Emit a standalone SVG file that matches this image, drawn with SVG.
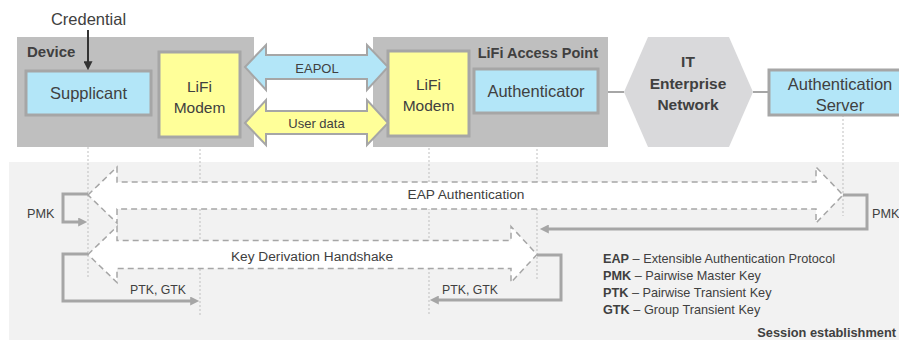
<svg xmlns="http://www.w3.org/2000/svg" width="899" height="340" viewBox="0 0 899 340">
<defs>
<style>
text{font-family:"Liberation Sans",Arial,sans-serif;fill:#404040}
.n{font-size:16.5px;text-anchor:middle}
.m{font-size:15.5px;text-anchor:middle}
.b{font-weight:bold}
.s{font-size:13.7px}
.l{font-size:12.7px}
.box{stroke:#a6a6a6;stroke-width:3}
.blue{fill:#b3e6f8}
.yel{fill:#ffff99}
.life{stroke:#bfbfbf;stroke-width:1;stroke-dasharray:2 2;fill:none}
.dash{fill:#ffffff;stroke:#a6a6a6;stroke-width:1.5;stroke-dasharray:6 4}
.br{fill:none;stroke:#a6a6a6;stroke-width:3;marker-end:url(#ah)}
.blk{stroke:#a6a6a6;stroke-width:2}
</style>
<marker id="ah" viewBox="0 0 10 10" markerWidth="10" markerHeight="9" markerUnits="userSpaceOnUse" refX="2" refY="5" orient="auto"><path d="M0,0 L10,5 L0,10 z" fill="#a6a6a6"/></marker>
<marker id="ak" viewBox="0 0 10 10" markerWidth="9" markerHeight="9" markerUnits="userSpaceOnUse" refX="2" refY="5" orient="auto"><path d="M0,0 L10,5 L0,10 z" fill="#333333"/></marker>
</defs>
<rect x="9" y="162" width="890" height="178" fill="#f2f2f2"/>
<g id="device">
<rect x="17" y="37" width="237" height="110" fill="#bfbfbf"/>
<text x="27" y="57" class="b" style="font-size:15px">Device</text>
</g>
<g id="access-point">
<rect x="373" y="37" width="235" height="110" fill="#bfbfbf"/>
<text x="598" y="58" class="b" style="font-size:14.5px;text-anchor:end">LiFi Access Point</text>
</g>
<g id="lifelines">
<line x1="88" y1="115" x2="88" y2="277" class="life"/>
<line x1="200" y1="137" x2="200" y2="315" class="life"/>
<line x1="429" y1="136" x2="429" y2="315" class="life"/>
<line x1="537" y1="113" x2="537" y2="281" class="life"/>
<line x1="843" y1="115" x2="843" y2="216" class="life"/>
</g>
<g id="credential">
<text x="88.5" y="25" class="n">Credential</text>
</g>
<g id="supplicant">
<rect x="26" y="71" width="125" height="44" class="box blue"/>
<text x="88.5" y="99" class="n">Supplicant</text>
</g>
<g id="modem-left">
<rect x="159" y="52" width="81" height="85" class="box yel"/>
<text x="199.5" y="92" class="m">LiFi</text>
<text x="199.5" y="113" class="m">Modem</text>
</g>
<g id="modem-right">
<rect x="388" y="51" width="81" height="85" class="box yel"/>
<text x="428.5" y="90" class="m">LiFi</text>
<text x="428.5" y="111" class="m">Modem</text>
</g>
<g id="authenticator">
<rect x="474" y="69" width="124" height="44" class="box blue"/>
<text x="536" y="97" class="n">Authenticator</text>
</g>
<g id="it-network">
<polygon points="624,92 648,37 729,37 753,92 729,147 648,147" fill="#d9d9db"/>
<text x="688" y="67" class="m b">IT</text>
<text x="688" y="89" class="m b">Enterprise</text>
<text x="688" y="110" class="m b">Network</text>
</g>
<g id="auth-server">
<rect x="769" y="70" width="142" height="45" class="box blue"/>
<text x="840" y="90" class="n">Authentication</text>
<text x="840" y="111" class="n">Server</text>
</g>
<g id="connectors">
<line x1="88" y1="30" x2="88" y2="63" stroke="#333333" stroke-width="2" marker-end="url(#ak)"/>
<line x1="608" y1="92" x2="624" y2="92" stroke="#a6a6a6" stroke-width="2"/>
<line x1="753" y1="92" x2="769" y2="92" stroke="#a6a6a6" stroke-width="2"/>
<polygon points="245,67 266,45 266,55 367,55 367,45 388,67 367,90 367,79 266,79 266,90" class="blk blue"/>
<text x="317" y="73" style="font-size:13px;text-anchor:middle">EAPOL</text>
<polygon points="245,123 266,100 266,111 367,111 367,100 388,123 367,145 367,134 266,134 266,145" class="blk yel"/>
<text x="316.5" y="128" style="font-size:13px;text-anchor:middle">User data</text>
<polygon points="88,195 117,167 117,182 816,182 816,167 843,195 816,223 816,209 117,209 117,223" class="dash"/>
<text x="466" y="199" class="s" text-anchor="middle">EAP Authentication</text>
<polygon points="88,254.5 117,226.5 117,240.5 511,240.5 511,226.5 537,254.5 511,282.5 511,268.5 117,268.5 117,282.5" class="dash"/>
<text x="312" y="261" class="s" text-anchor="middle">Key Derivation Handshake</text>
<path d="M88,194 H63 V222 H80" class="br"/>
<text x="27" y="218" class="l">PMK</text>
<path d="M843,195 H867 V229 H547" class="br"/>
<text x="872" y="218" class="l">PMK</text>
<path d="M88,254 H63 V301 H192" class="br"/>
<text x="130" y="294" style="font-size:12.3px">PTK, GTK</text>
<path d="M537,255 H561 V300 H437" class="br"/>
<text x="442" y="294" style="font-size:12.3px">PTK, GTK</text>
</g>
<g id="legend">
<text x="603" y="263" class="l"><tspan class="b">EAP</tspan> – Extensible Authentication Protocol</text>
<text x="603" y="280" class="l"><tspan class="b">PMK</tspan> – Pairwise Master Key</text>
<text x="603" y="297" class="l"><tspan class="b">PTK</tspan> – Pairwise Transient Key</text>
<text x="603" y="314" class="l"><tspan class="b">GTK</tspan> – Group Transient Key</text>
<text x="896" y="337" class="b" style="font-size:12.8px;text-anchor:end">Session establishment</text>
</g>
</svg>
